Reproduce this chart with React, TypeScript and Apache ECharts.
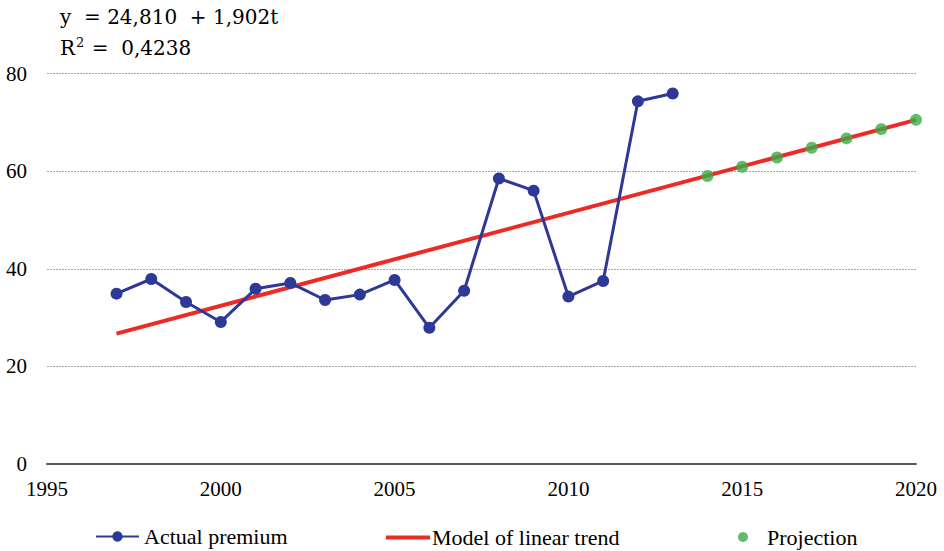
import React, { useEffect, useRef } from "react";
import * as echarts from "echarts";

const years = [1997, 1998, 1999, 2000, 2001, 2002, 2003, 2004, 2005, 2006, 2007, 2008, 2009, 2010, 2011, 2012, 2013];
const actualPremium = [34.9, 37.9, 33.2, 29.1, 35.9, 37.1, 33.6, 34.7, 37.7, 27.9, 35.5, 58.5, 56.0, 34.3, 37.5, 74.3, 75.9];
const trendYears = [1997, 2020];
const trendValues = [26.7, 70.5];
const projectionYears = [2014, 2015, 2016, 2017, 2018, 2019, 2020];
const projectionValues = [59.0, 60.9, 62.8, 64.8, 66.7, 68.6, 70.5];
const equationText = "y  = 24,810  + 1,902t";

const FONT = "'Times New Roman', 'Liberation Serif', serif";
const MATH_FONT = "'DejaVu Serif', serif";

export default function App() {
  const ref = useRef<HTMLDivElement>(null);
  useEffect(() => {
    if (!ref.current) return;
    const chart = echarts.init(ref.current, null, { renderer: "svg" });
    const legendText = { fontFamily: FONT, fontSize: 22, color: "#000" };
    chart.setOption({
      animation: false,
      textStyle: { fontFamily: FONT },
      grid: { left: 47, right: 28, top: 73.5, bottom: 87 },
      xAxis: {
        type: "value",
        min: 1995,
        max: 2020,
        interval: 5,
        axisLine: { show: true, onZero: true, lineStyle: { color: "#595959", width: 2 } },
        axisTick: { show: false },
        splitLine: { show: false },
        axisLabel: {
          formatter: (v: number) => String(v),
          fontFamily: FONT,
          fontSize: 21,
          color: "#000",
          margin: 14,
        },
      },
      yAxis: {
        type: "value",
        min: 0,
        max: 80,
        interval: 20,
        axisLine: { show: false },
        axisTick: { show: false },
        splitLine: { show: true, lineStyle: { color: "#a6a6a6", type: [2, 1], width: 1 } },
        axisLabel: { fontFamily: FONT, fontSize: 21, color: "#000", margin: 20 },
      },
      legend: [
        {
          data: [{ name: "Actual premium" }],
          left: 95,
          top: 525.5,
          padding: 0,
          itemWidth: 43,
          itemHeight: 13,
          textStyle: legendText,
        },
        {
          data: [{ name: "Model of linear trend", icon: "rect" }],
          left: 386,
          top: 526.5,
          padding: 0,
          itemWidth: 44,
          itemHeight: 4,
          textStyle: { ...legendText, padding: [0, 0, 0, -3] },
        },
        {
          data: [{ name: "Projection", icon: "circle" }],
          left: 738,
          top: 526,
          padding: 0,
          itemWidth: 10,
          itemHeight: 10,
          textStyle: { ...legendText, padding: [0, 0, 0, 14] },
        },
      ],
      graphic: [
        {
          type: "text",
          left: 60,
          top: 7,
          style: { text: equationText, fontFamily: MATH_FONT, fontSize: 20, fill: "#000" },
        },
        {
          type: "text",
          left: 60,
          top: 36,
          style: {
            text: "{b|R}{s|2}{b| =  0,4238}",
            rich: {
              b: { fontFamily: MATH_FONT, fontSize: 20, color: "#000", lineHeight: 24 },
              s: { fontFamily: MATH_FONT, fontSize: 13, color: "#000", lineHeight: 17, verticalAlign: "top", padding: [0, 1, 0, 1] },
            },
          },
        },
      ],
      series: [
        {
          name: "Model of linear trend",
          type: "line",
          symbol: "none",
          data: trendYears.map((y, i) => [y, trendValues[i]]),
          lineStyle: { color: "#ee2a24", width: 4 },
          itemStyle: { color: "#ee2a24" },
          z: 2,
        },
        {
          name: "Actual premium",
          type: "line",
          symbol: "circle",
          symbolSize: 12,
          data: years.map((y, i) => [y, actualPremium[i]]),
          lineStyle: { color: "#2e3897", width: 3 },
          itemStyle: { color: "#2e3897" },
          z: 3,
        },
        {
          name: "Projection",
          type: "scatter",
          symbol: "circle",
          symbolSize: 12,
          data: projectionYears.map((y, i) => [y, projectionValues[i]]),
          itemStyle: { color: "#38ad47" },
          z: 4,
        },
      ],
    });
    return () => chart.dispose();
  }, []);
  return <div ref={ref} style={{ width: 944, height: 551, position: "absolute", left: 0, top: 0 }} />;
}
